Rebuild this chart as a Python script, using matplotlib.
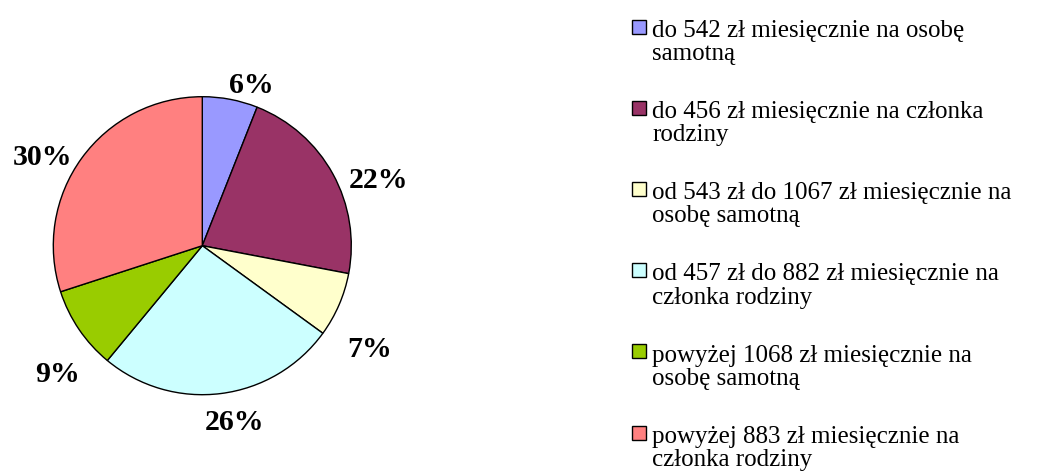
import matplotlib
matplotlib.use('Agg')
import matplotlib.pyplot as plt
from matplotlib.patches import Rectangle

labels = [
    'do 542 zł miesięcznie na osobę\nsamotną',
    'do 456 zł miesięcznie na członka\nrodziny',
    'od 543 zł do 1067 zł miesięcznie na\nosobę samotną',
    'od 457 zł do 882 zł miesięcznie na\nczłonka rodziny',
    'powyżej 1068 zł miesięcznie na\nosobę samotną',
    'powyżej 883 zł miesięcznie na\nczłonka rodziny',
]
values = [6, 22, 7, 26, 9, 30]
colors = ['#9999FF', '#993366', '#FFFFCC', '#CCFFFF', '#99CC00', '#FF8080']

W, H = 1037, 475
R = 149  # pie radius in px
cx, cy = 202.3, 245.7  # pie centre in px from top-left

# label anchor (centre x, baseline y) relative to pie centre, px, y up
label_offsets = [(49, 152.7), (176, 57.7), (167, -111.3), (32, -184.3), (-145, -136.3), (-160, 80.7)]

plt.rcParams['font.family'] = ['Liberation Serif', 'DejaVu Serif']

fig = plt.figure(figsize=(W / 100, H / 100), dpi=100)
half = 200
ax = fig.add_axes([(cx - half) / W, (H - cy - half) / H, 2 * half / W, 2 * half / H])

wedges, texts, autotexts = ax.pie(
    values, colors=colors, startangle=90, counterclock=False,
    autopct='%d%%', pctdistance=1.2,
    wedgeprops={'edgecolor': 'black', 'linewidth': 1.0},
    textprops={'fontsize': 21.5, 'fontweight': 'bold'},
)
ax.set_xlim(-half / R, half / R)
ax.set_ylim(-half / R, half / R)
ax.set_aspect('equal')
ax.axis('off')
for t, (dx, dy) in zip(autotexts, label_offsets):
    t.set_position((dx / R, dy / R))
    t.set_ha('center')
    t.set_va('baseline')

# legend drawn by hand so the marker sits on the first line
line_gap = 23
for i, (lab, col) in enumerate(zip(labels, colors)):
    base = 37 + 81.2 * i
    fig.patches.append(Rectangle((632 / W, 1 - (base - 3.5) / H), 13.5 / W, 14 / H,
                                 transform=fig.transFigure, facecolor=col,
                                 edgecolor='black', linewidth=1.0))
    fig.text(652 / W, 1 - (base + line_gap) / H, lab, fontsize=18, va='baseline', ha='left',
             linespacing=1.07)

fig.savefig('out.png', dpi=100, facecolor='white')
